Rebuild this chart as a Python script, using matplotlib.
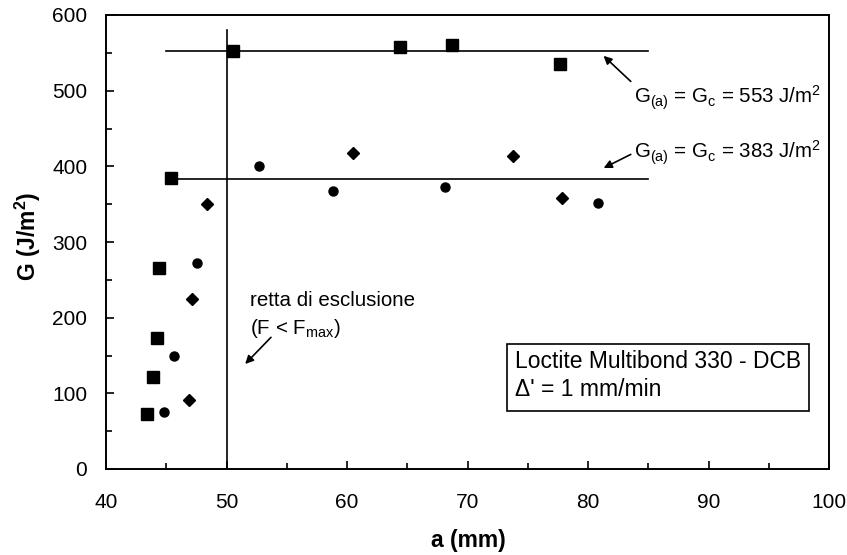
import matplotlib
matplotlib.use("Agg")
import matplotlib.pyplot as plt
from matplotlib.patches import Rectangle

plt.rcParams['font.family'] = ['Liberation Sans', 'DejaVu Sans']
plt.rcParams['mathtext.fontset'] = 'custom'
plt.rcParams['mathtext.rm'] = 'Liberation Sans'
plt.rcParams['mathtext.it'] = 'Liberation Sans'
plt.rcParams['mathtext.bf'] = 'Liberation Sans:bold'

# Data (a in mm, G in J/m^2)
sq_a = [43.43, 43.93, 44.26, 44.43, 45.4, 50.53, 64.36, 68.68, 77.68]
sq_G = [72.7, 121, 172.7, 265, 384.6, 553, 558, 561, 535]
ci_a = [44.85, 45.68, 47.56, 52.66, 58.81, 68.12, 80.84]
ci_G = [75.7, 149.7, 271.8, 400.8, 367, 372.3, 351]
di_a = [46.87, 47.17, 48.42, 60.53, 73.75, 77.82]
di_G = [91.2, 224.7, 350.6, 417.6, 413.6, 357.7]

Gc_high = 553
Gc_low = 383
line_a = [45, 85]
excl_a = 50
excl_G = [0, 580]

xticks = [40, 50, 60, 70, 80, 90, 100]
yticks = [0, 100, 200, 300, 400, 500, 600]

W, H = 847, 555
fig = plt.figure(figsize=(W/100, H/100), dpi=100)
L, R, T, B = 106, 829, 15, 469
ax = fig.add_axes([L/W, 1-B/H, (R-L)/W, (B-T)/H])

def px2ax(x, y):
    return ((x-L)/(R-L), (B-y)/(B-T))

ax.plot(line_a, [Gc_high, Gc_high], color='black', lw=1.2, zorder=2)
ax.plot(line_a, [Gc_low, Gc_low], color='black', lw=1.2, zorder=2)
ax.plot([excl_a, excl_a], excl_G, color='black', lw=1.2, zorder=2)

ax.plot(sq_a, sq_G, 's', color='black', ms=8.5, ls='none', zorder=3)
ax.plot(ci_a, ci_G, 'o', color='black', ms=6.5, ls='none', zorder=3)
ax.plot(di_a, di_G, 'D', color='black', ms=6, ls='none', zorder=3)

ax.set_xlim(40, 100)
ax.set_ylim(0, 600)
ax.set_xticks(xticks)
ax.set_yticks(yticks)
ax.set_xticks([45, 55, 65, 75, 85, 95], minor=True)
ax.set_yticks([50, 150, 250, 350, 450, 550], minor=True)
ax.tick_params(which='major', direction='in', length=6, width=1.2,
               labelsize=15, top=False, right=False)
ax.tick_params(which='minor', direction='in', length=4.5, width=1.2,
               top=False, right=False)
ax.tick_params(axis='y', which='major', pad=13.5)
ax.tick_params(axis='x', which='major', pad=17)
for s in ax.spines.values():
    s.set_linewidth(1.4)

fig.text(468/W, 1-540/H, 'a (mm)', fontsize=16.5, fontweight='bold',
         ha='center', va='center')
fig.text(27.5/W, 1-236/H, r'G (J/m$^\mathbf{2}$)', fontsize=16.5,
         fontweight='bold', ha='center', va='center', rotation=90)

# annotations
fs = 14.8
ax.annotate(r'G$_\mathrm{(a)}$ = G$_\mathrm{c}$ = 553 J/m$^\mathrm{2}$',
            xy=(81.29, 546), xytext=(83.78, 490), textcoords='data',
            fontsize=fs, va='center', ha='left',
            arrowprops=dict(arrowstyle='-|>', color='black', lw=1.2,
                            shrinkA=0, shrinkB=0, mutation_scale=12,
                            relpos=(0, 1)))
ax.annotate(r'G$_\mathrm{(a)}$ = G$_\mathrm{c}$ = 383 J/m$^\mathrm{2}$',
            xy=(81.3, 397.8), xytext=(83.78, 417.6), textcoords='data',
            fontsize=fs, va='center', ha='left',
            arrowprops=dict(arrowstyle='-|>', color='black', lw=1.2,
                            shrinkA=0, shrinkB=0, mutation_scale=12,
                            relpos=(0, 0.5)))

ax.text(*px2ax(250, 301), 'retta di esclusione', transform=ax.transAxes,
        fontsize=fs, va='center', ha='left')
ax.text(*px2ax(250, 328), r'(F < F$_\mathrm{max}$)', transform=ax.transAxes,
        fontsize=fs, va='center', ha='left')
ax.annotate('', xy=(51.55, 138.8), xytext=(53.69, 174),
            arrowprops=dict(arrowstyle='-|>', color='black', lw=1.2,
                            shrinkA=0, shrinkB=0, mutation_scale=12))

# info box
bx0, by0 = px2ax(507, 411)
bx1, by1 = px2ax(809, 344)
ax.add_patch(Rectangle((bx0, by0), bx1-bx0, by1-by0,
                       transform=ax.transAxes, fill=False, edgecolor='black',
                       lw=1.2, zorder=4))
ax.text(*px2ax(515, 362), 'Loctite Multibond 330 - DCB', transform=ax.transAxes,
        fontsize=16.5, va='center', ha='left')
ax.text(*px2ax(515, 389), "\u0394' = 1 mm/min", transform=ax.transAxes,
        fontsize=16.5, va='center', ha='left')

fig.savefig('out.png', dpi=100)
